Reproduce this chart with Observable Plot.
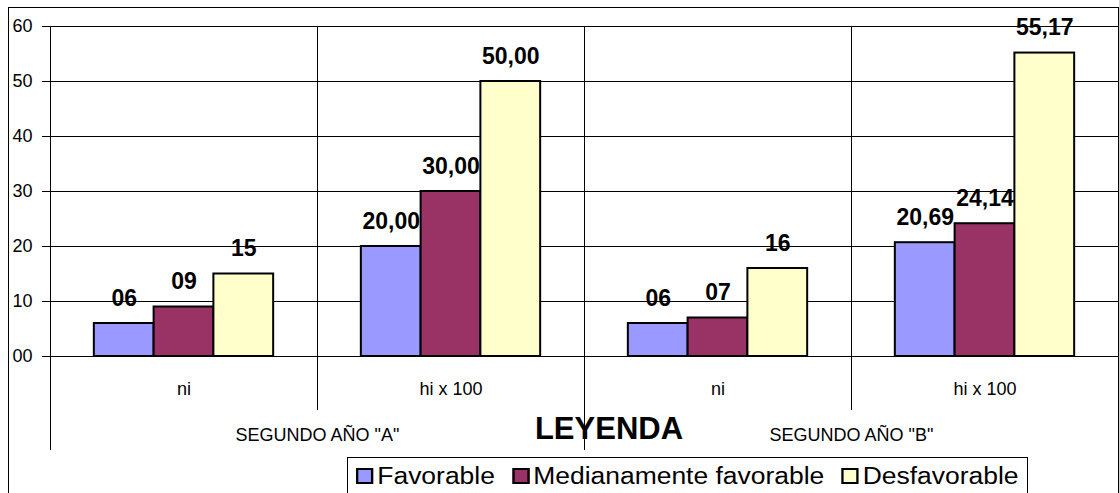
<!DOCTYPE html>
<html>
<head>
<meta charset="utf-8">
<script src="https://cdn.jsdelivr.net/npm/d3@7"></script>
<script src="https://cdn.jsdelivr.net/npm/@observablehq/plot@0.6"></script>
<style>
  body { margin: 0; background: white; }
  #wrap { position: relative; width: 1119px; height: 493px; overflow: hidden; background: white; font-family: "Liberation Sans", Arial, sans-serif; }
  #border { position: absolute; left: 8px; top: 7px; width: 1109px; height: 600px; border: 1px solid black; pointer-events: none; }
  #chart { position: absolute; left: 0; top: 0; }
  #leyenda { position: absolute; left: 609px; top: 413px; transform: translateX(-50%); font-weight: bold; font-size: 31px; line-height: 1; color: black; white-space: nowrap; }
  #legend { position: absolute; left: 347px; top: 457px; width: 681px; height: 50px; border: 1px solid black; background: white; box-sizing: border-box; }
  #legendRow { position: absolute; left: 8px; top: 7px; display: flex; align-items: flex-start; transform: scaleX(1.15); transform-origin: left top; font-size: 23px; line-height: 1; white-space: nowrap; }
  .item { display: flex; align-items: flex-start; margin-right: 14.8px; }
  .sw { width: 11px; height: 12px; border: 2px solid black; margin-top: 3px; margin-right: 3.5px; }
</style>
</head>
<body>
<div id="wrap">
  <div id="chart"></div>
  <div id="leyenda">LEYENDA</div>
  <div id="legend"><div id="legendRow"></div></div>
  <div id="border"></div>
</div>
<script>
const categories = ["ni", "hi x 100", "ni", "hi x 100"];
const groupOf = [0, 0, 1, 1];
const groups = ['SEGUNDO AÑO "A"', 'SEGUNDO AÑO "B"'];
const series = ["Favorable", "Medianamente favorable", "Desfavorable"];
const colors = ["#9999FF", "#993366", "#FFFFCC"];
const favorable = [6, 20.00, 6, 20.69];
const medianamente = [9, 30.00, 7, 24.14];
const desfavorable = [15, 50.00, 16, 55.17];
const yTicks = [0, 10, 20, 30, 40, 50, 60];

const values = [favorable, medianamente, desfavorable];
const keys = categories.map((c, i) => groups[groupOf[i]] + "|" + c);
const fmt = (v, cat) => cat === "ni" ? String(Math.round(v)).padStart(2, "0") : v.toFixed(2).replace(".", ",");
const rows = [];
categories.forEach((cat, i) => {
  series.forEach((s, j) => {
    rows.push({key: keys[i], series: s, value: values[j][i], label: fmt(values[j][i], cat)});
  });
});
const groupRows = groups.map((g, gi) => ({key: keys[groupOf.indexOf(gi)], text: g}));

const chart = Plot.plot({
  width: 1119,
  height: 460,
  marginTop: 26,
  marginLeft: 48,
  marginRight: 0,
  marginBottom: 104,
  style: {background: "transparent", fontFamily: "'Liberation Sans', Arial, sans-serif", fontSize: "18px", color: "black"},
  fx: {domain: keys, padding: 0, label: null, axis: null},
  x: {domain: series, paddingInner: 0, paddingOuter: 0.7333, round: false, axis: null},
  y: {domain: [0, 60], axis: null},
  color: {domain: series, range: colors},
  marks: [
    Plot.gridY(yTicks, {stroke: "black", strokeOpacity: 1, strokeWidth: 1}),
    Plot.axisY(yTicks, {anchor: "left", tickSize: 8, tickPadding: 10, tickFormat: d => String(d).padStart(2, "0"), fontSize: 18, label: null, facetAnchor: "left", stroke: "black"}),
    Plot.axisFx({anchor: "bottom", tickSize: 0, tickPadding: 26, tickFormat: d => d.split("|")[1], fontSize: 18, label: null}),
    Plot.barY(rows, {fx: "key", x: "series", y: "value", fill: "series", stroke: "black", strokeWidth: 2}),
    Plot.text(rows, {fx: "key", x: "series", y: "value", text: "label", dy: -18, lineAnchor: "bottom", fontWeight: "bold", fontSize: 23, fill: "black"}),
    Plot.text(groupRows, {fx: "key", text: "text", frameAnchor: "bottom-right", textAnchor: "middle", lineAnchor: "middle", dy: 79, fontSize: 18, fill: "black"})
  ]
});
document.getElementById("chart").appendChild(chart);

// category separators drawn from the library's scales
const fxScale = chart.scale("fx");
const yScale = chart.scale("y");
const yTopPx = yScale.apply(60), yBasePx = yScale.apply(0);
const sepG = d3.select(chart).append("g").attr("stroke", "black").attr("stroke-width", 1);
keys.forEach((k, i) => {
  const xp = Math.round(fxScale.apply(k)) + 0.5;
  const isGroupStart = i === 0 || groupOf[i] !== groupOf[i - 1];
  sepG.append("line").attr("x1", xp).attr("x2", xp).attr("y1", yTopPx).attr("y2", yBasePx + (isGroupStart ? 94 : 54));
});

// legend
const legendSel = d3.select("#legendRow");
series.forEach((s, j) => {
  const it = legendSel.append("div").attr("class", "item");
  it.append("div").attr("class", "sw").style("background", colors[j]);
  it.append("span").text(s);
});
</script>
</body>
</html>
